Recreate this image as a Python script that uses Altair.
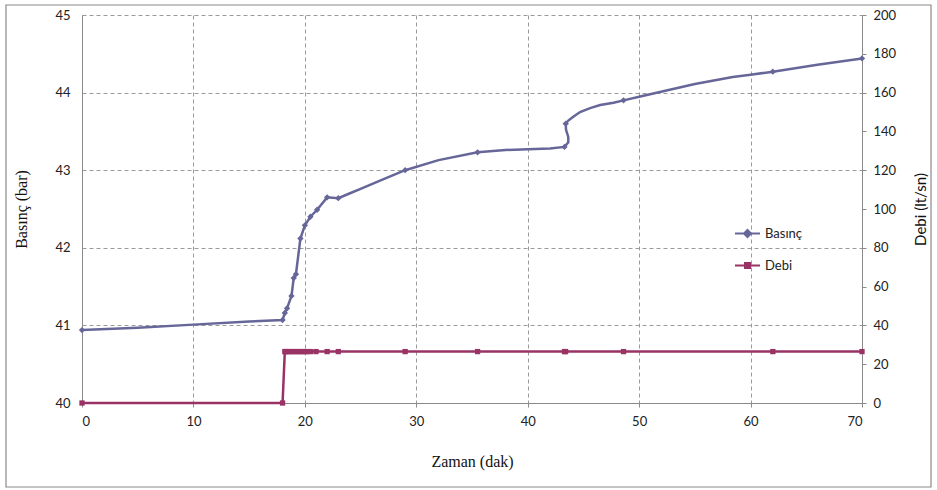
import altair as alt
import pandas as pd

# ---- data ----
series_names = ["Basınç", "Debi"]
series_colors = ["#666699", "#993366"]

# Basınç (bar) trace along the drawn curve
p_time = [0, 5, 10, 15, 18.0, 18.2, 18.4, 18.8, 19.0, 19.2, 19.6, 20.0, 20.5, 21.1,
          22.0, 23.0, 24.0, 25.0, 26.8, 29.0, 32.0, 35.5, 38.0, 40.0, 42.0, 43.3,
          43.64, 43.64, 43.44, 43.41, 43.64, 44.09, 44.7, 45.6, 46.5, 47.7, 48.6,
          50.1, 55.0, 58.4, 60.0, 62.0, 66.0, 70.0]
p_val = [40.94, 40.97, 41.01, 41.05, 41.07, 41.16, 41.22, 41.38, 41.61, 41.66, 42.12,
         42.29, 42.40, 42.49, 42.65, 42.64, 42.70, 42.76, 42.87, 43.00, 43.13, 43.23,
         43.26, 43.27, 43.28, 43.30, 43.36, 43.43, 43.52, 43.60, 43.64, 43.69, 43.75,
         43.80, 43.84, 43.87, 43.90, 43.95, 44.11, 44.20, 44.23, 44.27, 44.36, 44.44]

# Basınç markers
pm_time = [0, 18.0, 18.2, 18.4, 18.8, 19.0, 19.2, 19.6, 20.0, 20.5, 21.1, 22.0, 23.0,
           29.0, 35.5, 43.3, 43.41, 48.6, 62.0, 70.0]
pm_val = [40.94, 41.07, 41.16, 41.22, 41.38, 41.61, 41.66, 42.12, 42.29, 42.40, 42.49,
          42.65, 42.64, 43.00, 43.23, 43.30, 43.60, 43.90, 44.27, 44.44]

# Debi (lt/sn)
d_time = [0, 18.0, 18.2, 18.3, 18.4, 18.6, 18.8, 19.0, 19.2, 19.4, 19.6, 19.8, 20.0,
          20.2, 20.5, 21.0, 22.0, 23.0, 29.0, 35.5, 43.3, 43.4, 48.6, 62.0, 70.0]
d_val = [0, 0, 26.5, 26.5, 26.5, 26.5, 26.5, 26.5, 26.5, 26.5, 26.5, 26.5, 26.5,
         26.5, 26.5, 26.5, 26.5, 26.5, 26.5, 26.5, 26.5, 26.5, 26.5, 26.5, 26.5]

x_ticks = [0, 10, 20, 30, 40, 50, 60, 70]
p_ticks = [40, 41, 42, 43, 44, 45]
d_ticks = [0, 20, 40, 60, 80, 100, 120, 140, 160, 180, 200]

p_line_df = pd.DataFrame({"t": p_time, "v": p_val, "i": list(range(len(p_time)))})
p_pts_df = pd.DataFrame({"t": pm_time, "v": pm_val})
d_df = pd.DataFrame({"t": d_time, "v": d_val, "i": list(range(len(d_time)))})
leg_df = pd.DataFrame({"series": series_names})

GRID = "#9a9a9a"
AXIS = "#8a8a8a"
SANS = "Lato"
SERIF = "Liberation Serif"

x_scale = alt.Scale(domain=[0, 70], nice=False, zero=False)
x_axis = alt.Axis(title="Zaman (dak)", values=x_ticks, grid=True, gridDash=[4, 3],
                  gridColor=GRID, gridWidth=1, domainColor=AXIS, tickColor=AXIS,
                  tickSize=4, labelPadding=8, labelFont=SANS, labelFontSize=13,
                  labelColor="#222", titleFont=SERIF, titleFontSize=16,
                  titleFontWeight="normal", titleColor="#111", titlePadding=25)

p_scale = alt.Scale(domain=[40, 45], nice=False, zero=False)
p_axis = alt.Axis(title="Basınç (bar)", orient="left", values=p_ticks, grid=True,
                  gridDash=[4, 3], gridColor=GRID, gridWidth=1, domainColor=AXIS,
                  ticks=False, labelPadding=12, labelFont=SANS, labelFontSize=13,
                  labelColor="#222", titleFont=SERIF, titleFontSize=16,
                  titleFontWeight="normal", titleColor="#111", titlePadding=25)

d_scale = alt.Scale(domain=[0, 200], nice=False, zero=True)
d_axis = alt.Axis(title="Debi (lt/sn)", orient="right", values=d_ticks, grid=False,
                  domainColor=AXIS, tickColor=AXIS, tickSize=4, labelPadding=7,
                  labelFont=SANS, labelFontSize=13, labelColor="#222",
                  titleFont=SANS, titleFontSize=15, titleFontWeight="normal",
                  titleColor="#111", titleAngle=270, titlePadding=33)

X = alt.X("t:Q", scale=x_scale, axis=x_axis)

p_line = alt.Chart(p_line_df).mark_line(color=series_colors[0], strokeWidth=2.5).encode(
    x=X, y=alt.Y("v:Q", scale=p_scale, axis=p_axis), order="i:Q")
p_pts = alt.Chart(p_pts_df).mark_point(shape="diamond", filled=True, size=40,
                                        color=series_colors[0], opacity=1).encode(
    x=X, y=alt.Y("v:Q", scale=p_scale, axis=p_axis))

d_line = alt.Chart(d_df).mark_line(color=series_colors[1], strokeWidth=2.5).encode(
    x=X, y=alt.Y("v:Q", scale=d_scale, axis=d_axis), order="i:Q")
d_pts = alt.Chart(d_df).mark_point(shape="square", filled=True, size=28,
                                   color=series_colors[1], opacity=1).encode(
    x=X, y=alt.Y("v:Q", scale=d_scale, axis=d_axis))

leg = alt.Legend(title=None, orient="none", legendX=652, legendY=205,
                 symbolSize=625, symbolStrokeWidth=2, symbolOpacity=1,
                 labelFont=SANS, labelFontSize=13, labelColor="#222",
                 rowPadding=11, labelOffset=4)
shape_paths = ["M-1,0L1,0M0,-0.28L0.28,0L0,0.28L-0.28,0Z",
               "M-1,0L1,0M-0.2,-0.2L0.2,-0.2L0.2,0.2L-0.2,0.2Z"]
legend_layer = alt.Chart(leg_df).mark_point(filled=True, opacity=0).encode(
    fill=alt.Fill("series:N", scale=alt.Scale(domain=series_names, range=series_colors), legend=leg),
    stroke=alt.Stroke("series:N", scale=alt.Scale(domain=series_names, range=series_colors), legend=leg),
    shape=alt.Shape("series:N", scale=alt.Scale(domain=series_names, range=shape_paths), legend=leg),
)

border = alt.Chart(alt.Data(values=[{}])).mark_rect(
    fill="white", fillOpacity=0, stroke="#8a8a8a", strokeWidth=1.2, clip=False).encode(
    x=alt.value(-76), x2=alt.value(849), y=alt.value(-10), y2=alt.value(472))

left = alt.layer(p_line, p_pts)
right = alt.layer(d_line, d_pts, legend_layer)

chart = alt.layer(border, left, right).resolve_scale(y="independent").properties(
    width=780, height=388, autosize="none",
    padding={"left": 82, "top": 15, "right": 75, "bottom": 87},
    background="white",
).configure_view(stroke=None)

chart.save("out.html", embed_options={"renderer": "svg", "actions": False})
